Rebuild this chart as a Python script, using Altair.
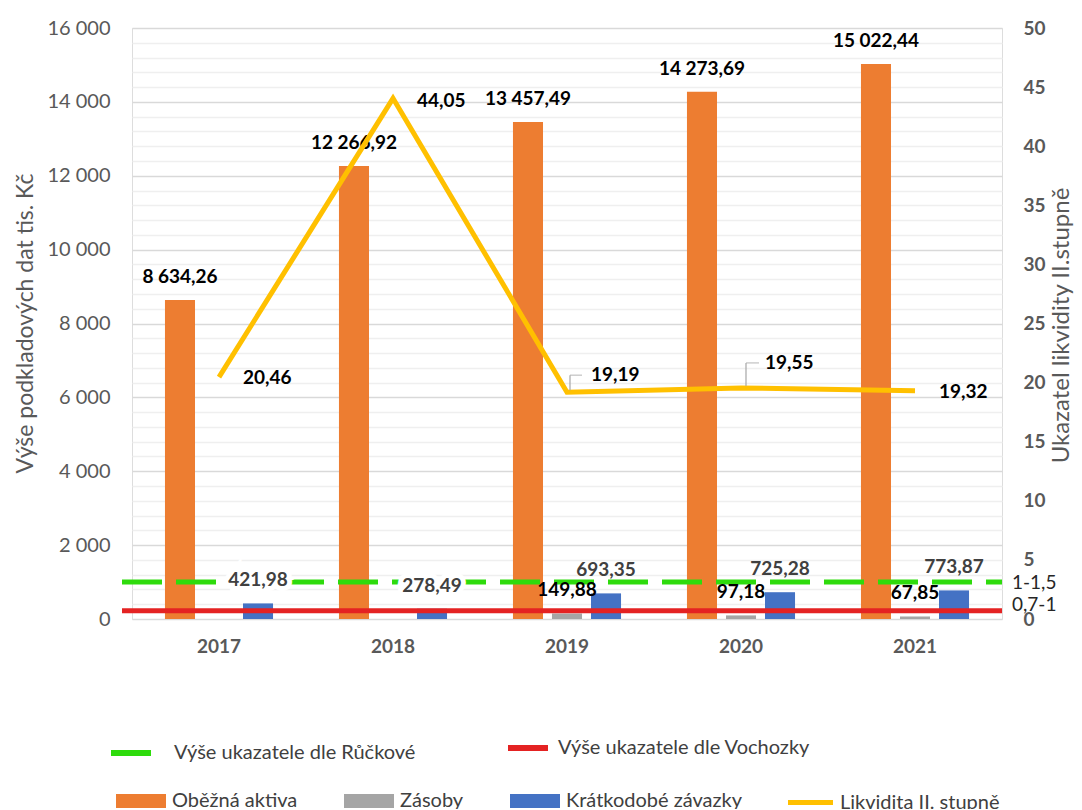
import altair as alt
import pandas as pd

# ---- data ----
years = ["2017", "2018", "2019", "2020", "2021"]
obezna_aktiva = [8634.26, 12266.92, 13457.49, 14273.69, 15022.44]
zasoby = [None, None, 149.88, 97.18, 67.85]
kratkodobe_zavazky = [421.98, 278.49, 693.35, 725.28, 773.87]
likvidita = [20.46, 44.05, 19.19, 19.55, 19.32]

bar_series = ["Oběžná aktiva", "Zásoby", "Krátkodobé závazky"]
bar_colors = ["#ED7D31", "#A5A5A5", "#4472C4"]
line_series = "Likvidita II. stupně"
line_color = "#FFC000"

ref_names = ["Výše ukazatele dle Růčkové", "Výše ukazatele dle Vochozky"]
ref_values = [1000, 225]
ref_labels = ["1-1,5", "0,7-1"]
ref_colors = ["#2EDB0C", "#E42222"]

left_ticks = list(range(0, 16001, 400))
right_ticks = list(range(0, 51, 5))


def fmt(v):
    return f"{v:,.2f}".replace(",", " ").replace(".", ",")


rows = []
for i, y in enumerate(years):
    for name, vals in zip(bar_series, [obezna_aktiva, zasoby, kratkodobe_zavazky]):
        v = vals[i]
        if v is None:
            continue
        rows.append({"year": y, "series": name, "value": v, "label": fmt(v)})
bars_df = pd.DataFrame(rows)

line_df = pd.DataFrame({"year": years, "likv": likvidita, "label": [fmt(v) for v in likvidita],
                        "lseries": [line_series] * len(years)})
green_df = pd.DataFrame({"gname": [ref_names[0]], "value": [ref_values[0]], "label": [ref_labels[0]]})
red_df = pd.DataFrame({"rname": [ref_names[1]], "value": [ref_values[1]], "label": [ref_labels[1]]})

FONT = "Lato"
GRAY = "#595959"
LEG_TXT = "#404040"

x_enc = alt.X("year:N", scale=alt.Scale(paddingInner=0, paddingOuter=0),
              axis=alt.Axis(title=None, labelAngle=0, labelFontWeight="bold", labelFontSize=19,
                            labelColor=GRAY, ticks=False, domain=False, labelPadding=18, grid=False))
xo_enc = alt.XOffset("series:N", scale=alt.Scale(domain=bar_series, paddingInner=0.23, paddingOuter=0.845))

y_left = alt.Y("value:Q", scale=alt.Scale(domain=[0, 16000], nice=False),
               axis=alt.Axis(values=left_ticks,
                             labelExpr="datum.value % 2000 === 0 ? replace(format(datum.value, ','), ',', ' ') : ''",
                             labelOverlap=False, labelFontSize=20, labelColor=GRAY,
                             ticks=False, domain=False, labelPadding=22,
                             gridColor={"condition": {"test": "datum.value % 2000 === 0", "value": "#D9D9D9"},
                                        "value": "#EFEFEF"},
                             gridWidth=1.3,
                             title="Výše podkladových dat tis. Kč", titleFontSize=23, titleFontWeight="normal",
                             titleColor=GRAY, titleAngle=-90, titleX=-107, titleY=295,
                             titleAlign="center", titleBaseline="middle"))

common_leg = dict(title=None, orient="none", direction="horizontal", padding=0, labelLimit=400,
                  symbolSize=2500, labelFontSize=20, labelColor=LEG_TXT, labelFont=FONT)

bars = alt.Chart(bars_df).mark_bar().encode(
    x=x_enc, xOffset=xo_enc, y=y_left,
    color=alt.Color("series:N", scale=alt.Scale(domain=bar_series, range=bar_colors),
                    legend=alt.Legend(columns=3, legendX=-17, legendY=747, columnPadding=45, labelOffset=5,
                                      symbolType="M-1,-0.28H1V0.28H-1Z", **common_leg)),
)

blue_only = alt.datum.series == "Krátkodobé závazky"

bar_halo = alt.Chart(bars_df).transform_filter(blue_only).transform_filter(
    alt.FieldOneOfPredicate(field="year", oneOf=["2017", "2018"])).mark_text(
    fontWeight="bold", fontSize=19, dy=-23, baseline="middle", font=FONT,
    color="white", stroke="white", strokeWidth=10).encode(
    x=x_enc, xOffset=xo_enc, y=y_left, text="label:N")

bar_text = alt.Chart(bars_df).mark_text(fontWeight="bold", fontSize=19, dy=-23, baseline="middle", font=FONT).encode(
    x=x_enc, xOffset=xo_enc, y=y_left, text="label:N",
    color=alt.condition(blue_only, alt.value("#404040"), alt.value("#000000")),
)

green_rule = alt.Chart(green_df).mark_rule(strokeWidth=5, color=ref_colors[0]).encode(
    y=y_left, x=alt.value(-10), x2=alt.value(870),
    strokeDash=alt.StrokeDash("gname:N", scale=alt.Scale(domain=[ref_names[0]], range=[[40, 14]]),
                              legend=alt.Legend(legendX=-24, legendY=697, labelOffset=10,
                                                symbolType="M-1,0H1", symbolDash=[22, 6],
                                                symbolStrokeColor=ref_colors[0], symbolStrokeWidth=6,
                                                **common_leg)))
red_rule = alt.Chart(red_df).mark_rule(strokeWidth=5, color=ref_colors[1]).encode(
    y=y_left, x=alt.value(-10), x2=alt.value(870),
    opacity=alt.Opacity("rname:O", scale=alt.Scale(domain=[ref_names[1]], range=[1, 1]),
                        legend=alt.Legend(legendX=368, legendY=692, labelOffset=2,
                                          symbolType="M-0.8,0H0.8",
                                          symbolStrokeColor=ref_colors[1], symbolStrokeWidth=6,
                                          symbolOpacity=1, **common_leg)))

ref_text_g = alt.Chart(green_df).mark_text(
    align="left", baseline="middle", fontSize=19, dy=1, color="#262626", font=FONT).encode(
    y=y_left, x=alt.value(880), text="label:N")
ref_text_r = alt.Chart(red_df).mark_text(
    align="left", baseline="middle", fontSize=19, dy=-6, color="#262626", font=FONT).encode(
    y=y_left, x=alt.value(880), text="label:N")

left = alt.layer(bars, green_rule, red_rule, bar_halo, bar_text, ref_text_g, ref_text_r)

y_right = alt.Y("likv:Q", scale=alt.Scale(domain=[0, 50], nice=False),
                axis=alt.Axis(orient="right", values=right_ticks, labelFontWeight="bold", labelFontSize=19,
                              labelColor=GRAY, grid=False, ticks=False, domain=False, labelPadding=21,
                              title="Ukazatel likvidity II.stupně", titleFontSize=24, titleFontWeight="normal",
                              titleColor=GRAY, titleAngle=-90, titleX=59, titleY=297,
                              titleAlign="center", titleBaseline="middle"))

line = alt.Chart(line_df).mark_line(color=line_color).encode(
    x=x_enc, y=y_right,
    strokeWidth=alt.StrokeWidth("lseries:O", scale=alt.Scale(domain=[line_series], range=[5, 5]),
                                legend=alt.Legend(legendX=651, legendY=747, labelOffset=2,
                                                  symbolType="M-0.9,0H0.9",
                                                  symbolStrokeColor=line_color, symbolStrokeWidth=7,
                                                  **common_leg)))


def line_label(sel, dy):
    return alt.Chart(line_df).transform_filter(
        alt.FieldOneOfPredicate(field="year", oneOf=sel)).mark_text(
        align="left", baseline="middle", fontWeight="bold", fontSize=19, dx=24, dy=dy,
        color="#000000", font=FONT).encode(x=x_enc, y=y_right, text="label:N")


def leader(sel, x_off, y_from, y_to, length):
    base = alt.Chart(line_df).transform_filter(alt.FieldOneOfPredicate(field="year", oneOf=sel))
    vert = base.mark_rule(color="#A6A6A6", strokeWidth=1.2, xOffset=x_off, yOffset=y_from, y2Offset=y_to).encode(
        x=x_enc, y=y_right, y2=alt.Y2("likv"))
    horiz = base.mark_tick(color="#A6A6A6", thickness=1.2, orient="horizontal", size=length,
                           xOffset=x_off + length / 2, yOffset=y_to).encode(x=x_enc, y=y_right)
    return [vert, horiz]


right = alt.layer(line,
                  *leader(["2019"], 3, -2, -17, 12),
                  *leader(["2020"], 5, -2, -25, 13),
                  line_label(["2017", "2021"], 1),
                  line_label(["2018"], 3),
                  line_label(["2019"], -17),
                  line_label(["2020"], -25))

chart = alt.layer(left, right).resolve_scale(y="independent").properties(
    width=870, height=591,
    autosize=alt.AutoSizeParams(type="none"),
    padding={"left": 124, "top": 20, "right": 72, "bottom": 190},
).configure_view(stroke=None).configure(font=FONT)

chart.save("out.html", embed_options={"renderer": "svg", "actions": False})
